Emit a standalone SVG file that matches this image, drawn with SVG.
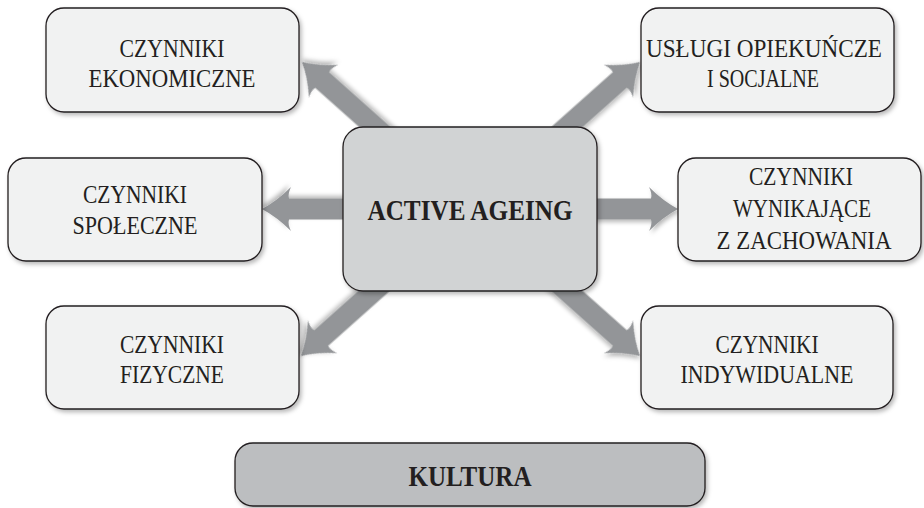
<svg xmlns="http://www.w3.org/2000/svg" width="924" height="508" viewBox="0 0 924 508">
  <defs>
    <filter id="sh" x="-10%" y="-10%" width="130%" height="140%">
      <feDropShadow dx="2" dy="2.5" stdDeviation="2.2" flood-color="#000" flood-opacity="0.28"/>
    </filter>
    <path id="arrow" d="M0,0 Q-15,-8 -29,-22 Q-25.5,-15 -27,-10.5 L-135,-10.5 L-135,10.5 L-27,10.5 Q-25.5,15 -29,22 Q-15,8 0,0 Z"/>
  </defs>
  <style>
    .box { fill: #f1f2f2; stroke: #231f20; stroke-width: 1.3; filter: url(#sh); }
    .center { fill: #d1d3d4; stroke: #231f20; stroke-width: 1.3; filter: url(#sh); }
    .kult { fill: #bcbec0; stroke: #231f20; stroke-width: 1.3; filter: url(#sh); }
    .arr { fill: #939598; filter: url(#sh); }
    text { font-family: "Liberation Serif", "Times New Roman", serif; font-size: 25px; fill: #231f20; text-anchor: middle; }
    .b { font-weight: bold; font-size: 30px; }
  </style>
  <rect width="924" height="508" fill="#ffffff"/>

  <g id="connectors">
    <use href="#arrow" class="arr" transform="translate(302,62) rotate(221.7)"/>
    <use href="#arrow" class="arr" transform="translate(640,62) rotate(-41.7)"/>
    <use href="#arrow" class="arr" transform="translate(262,209) rotate(180)"/>
    <use href="#arrow" class="arr" transform="translate(678,209)"/>
    <use href="#arrow" class="arr" transform="translate(301,356) rotate(138.3)"/>
    <use href="#arrow" class="arr" transform="translate(640,356) rotate(41.7)"/>
  </g>

  <g id="active-ageing">
    <rect class="center" x="343" y="127" width="254" height="164" rx="20" ry="20"/>
    <text class="b" x="470" y="220" textLength="205" lengthAdjust="spacingAndGlyphs">ACTIVE AGEING</text>
  </g>

  <g id="czynniki-ekonomiczne">
    <rect class="box" x="46" y="8" width="253" height="104" rx="18" ry="18"/>
    <text x="172" y="57" textLength="105" lengthAdjust="spacingAndGlyphs">CZYNNIKI</text>
    <text x="172" y="87" textLength="167" lengthAdjust="spacingAndGlyphs">EKONOMICZNE</text>
  </g>

  <g id="uslugi-opiekuncze">
    <rect class="box" x="641" y="8" width="253" height="104" rx="18" ry="18"/>
    <text x="764" y="57" textLength="236" lengthAdjust="spacingAndGlyphs">USŁUGI OPIEKUŃCZE</text>
    <text x="763" y="87" textLength="112" lengthAdjust="spacingAndGlyphs">I SOCJALNE</text>
  </g>

  <g id="czynniki-spoleczne">
    <rect class="box" x="8" y="158" width="254" height="103" rx="18" ry="18"/>
    <text x="135" y="203" textLength="104" lengthAdjust="spacingAndGlyphs">CZYNNIKI</text>
    <text x="135" y="234" textLength="125" lengthAdjust="spacingAndGlyphs">SPOŁECZNE</text>
  </g>

  <g id="czynniki-wynikajace">
    <rect class="box" x="678" y="158" width="243" height="103" rx="18" ry="18"/>
    <text x="801" y="185" textLength="104" lengthAdjust="spacingAndGlyphs">CZYNNIKI</text>
    <text x="802" y="217" textLength="138" lengthAdjust="spacingAndGlyphs">WYNIKAJĄCE</text>
    <text x="804" y="249" textLength="175" lengthAdjust="spacingAndGlyphs">Z ZACHOWANIA</text>
  </g>

  <g id="czynniki-fizyczne">
    <rect class="box" x="46" y="306" width="253" height="103" rx="18" ry="18"/>
    <text x="172" y="353" textLength="104" lengthAdjust="spacingAndGlyphs">CZYNNIKI</text>
    <text x="172" y="383" textLength="104" lengthAdjust="spacingAndGlyphs">FIZYCZNE</text>
  </g>

  <g id="czynniki-indywidualne">
    <rect class="box" x="641" y="306" width="252" height="103" rx="18" ry="18"/>
    <text x="767" y="353" textLength="103" lengthAdjust="spacingAndGlyphs">CZYNNIKI</text>
    <text x="767" y="383" textLength="173" lengthAdjust="spacingAndGlyphs">INDYWIDUALNE</text>
  </g>

  <g id="kultura">
    <rect class="kult" x="235" y="443" width="470" height="63" rx="18" ry="18"/>
    <text class="b" x="470" y="486" textLength="123" lengthAdjust="spacingAndGlyphs">KULTURA</text>
  </g>
</svg>
